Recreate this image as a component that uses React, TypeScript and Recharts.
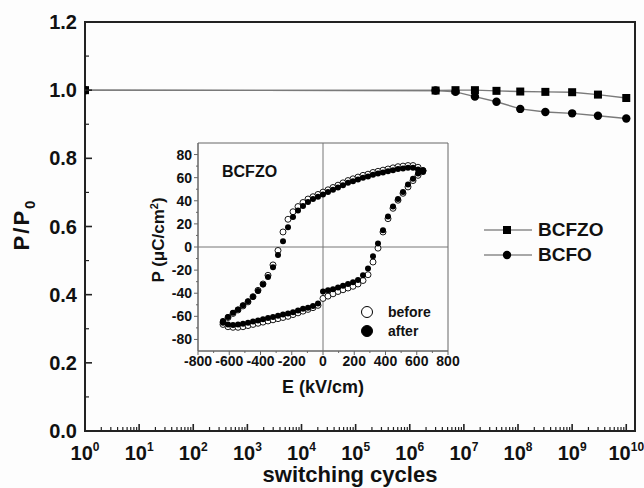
import {
  LineChart,
  Line,
  XAxis,
  YAxis,
  ReferenceArea,
  ReferenceLine,
  Legend,
  ScatterChart,
  Scatter,
} from "recharts";

const FONT = '"Liberation Sans", Arial, Helvetica, sans-serif';

// main plot: P/P0 against number of switching cycles
const cycles = [1, 3e6, 7e6, 1.6e7, 4e7, 1.1e8, 3.2e8, 1e9, 3e9, 1e10];
const bcfzo = [1.0, 0.999, 1.0, 1.0, 0.998, 0.996, 0.995, 0.994, 0.987, 0.977];
const bcfo = [1.0, 0.999, 0.995, 0.981, 0.966, 0.945, 0.936, 0.932, 0.925, 0.917];
const mainNames = ["BCFZO", "BCFO"];

const decades = [0, 1, 2, 3, 4, 5, 6, 7, 8, 9, 10];
const yTicks = [0, 0.1, 0.2, 0.3, 0.4, 0.5, 0.6, 0.7, 0.8, 0.9, 1.0, 1.1, 1.2];
const X_MAX = 1.45e10;

// inset: hysteresis loop of BCFZO, before / after fatigue
const loopE = [
  -640, -608, -576, -544, -512, -480, -448, -416, -384, -352, -320, -288, -256, -224, -192, -160, -128, -96, -64, -32,
  0, 32, 64, 96, 128, 160, 192, 224, 256, 288, 320, 352, 384, 416, 448, 480, 512, 544, 576, 608, 640,
];
const upperBefore = [
  -65, -61, -57.5, -54.5, -51, -47.5, -43, -37.5, -32, -24.5, -15.5, -3, 13, 24, 30.5, 35, 38.5, 41.5, 43.5, 45.5,
  47.5, 49.5, 51.5, 53.5, 55.5, 57.5, 59, 60.5, 62, 63, 64.5, 65.5, 66.5, 67.5, 68.5, 69.5, 70, 70.5, 70.5, 69, 66,
];
const lowerBefore = [
  -67, -69, -69.5, -69.5, -69, -68, -67, -66, -65, -64, -63, -62, -61, -60, -58.5, -57, -55.5, -54, -52.5, -50.5,
  -44.5, -42.5, -40.5, -38.5, -37, -35.5, -34, -32, -29, -24, -13, -1, 13, 24.5, 33.5, 40.5, 46.5, 52, 57.5, 62, 66,
];
const upperAfter = [
  -64, -60.5, -57, -54, -50.5, -47, -43, -38, -32.5, -26, -17.5, -7, 5, 17, 26, 31.5, 35.5, 39, 41.5, 43.5,
  45.5, 47.5, 49.5, 51.5, 53.5, 55.5, 57, 58.5, 60, 61, 62.5, 63.5, 64.5, 65.5, 66.5, 67.5, 68, 68.5, 68.5, 67, 65,
];
const lowerAfter = [
  -65.5, -67, -67.5, -67, -66.5, -65.5, -64.5, -63.5, -62.5, -61.5, -60.5, -59.5, -58.5, -57.5, -56.5, -55, -53.5, -52.5, -51, -49,
  -38.5, -37.5, -36.5, -35, -33.5, -32, -30.5, -28.5, -24.5, -18.5, -8, 3, 14.5, 26.5, 35, 41.5, 47.5, 54, 59, 63.5, 66.5,
];
const loopNames = ["before", "after"];
const eTicks = [-800, -700, -600, -500, -400, -300, -200, -100, 0, 100, 200, 300, 400, 500, 600, 700, 800];
const pTicks = [-80, -70, -60, -50, -40, -30, -20, -10, 0, 10, 20, 30, 40, 50, 60, 70, 80];

const mainData = cycles.map((c, i) => ({ cycles: c, bcfzo: bcfzo[i], bcfo: bcfo[i] }));

const xTicks: number[] = [];
decades.forEach((d) => {
  for (let m = 1; m <= 9; m++) {
    if (d === 10 && m > 1) break;
    xTicks.push(m * Math.pow(10, d));
  }
});

const loopPoints = (upper: number[], lower: number[]) => [
  ...loopE.map((e, i) => ({ e, p: upper[i] })),
  ...loopE.map((e, i) => ({ e, p: lower[i] })),
];
const beforeData = loopPoints(upperBefore, lowerBefore);
const afterData = loopPoints(upperAfter, lowerAfter);

const isDecade = (v: number) => Math.abs(Math.log10(v) - Math.round(Math.log10(v))) < 1e-9;
const inOrder = (payload: any[], names: string[]) =>
  [...(payload || [])].sort((a, b) => names.indexOf(a.value) - names.indexOf(b.value));

function LogTick(props: any) {
  const { x, y, payload } = props;
  const major = isDecade(payload.value);
  const exp = Math.round(Math.log10(payload.value));
  return (
    <g>
      <line x1={x} x2={x} y1={y} y2={y - (major ? 7 : 4)} stroke="#222" strokeWidth={major ? 1.6 : 1.2} />
      {major && (
        <text x={x} y={y + 29} textAnchor="middle" fontSize={20} fontWeight="bold" fill="#111" fontFamily={FONT}>
          <tspan>10</tspan>
          <tspan dy={-9} fontSize={12}>
            {exp}
          </tspan>
        </text>
      )}
    </g>
  );
}

function RatioTick(props: any) {
  const { x, y, payload } = props;
  const major = Math.round(payload.value * 10) % 2 === 0;
  return (
    <g>
      <line x1={x} x2={x + (major ? 7 : 4)} y1={y} y2={y} stroke="#222" strokeWidth={major ? 1.6 : 1.2} />
      {major && (
        <text x={x - 8} y={y + 7} textAnchor="end" fontSize={20} fontWeight="bold" fill="#111" fontFamily={FONT}>
          {payload.value.toFixed(1)}
        </text>
      )}
    </g>
  );
}

function FieldTick(props: any) {
  const { x, y, payload } = props;
  const major = payload.value % 200 === 0;
  return (
    <g>
      <line x1={x} x2={x} y1={y} y2={y + (major ? 4 : 2)} stroke="#666" />
      {major && (
        <text x={x} y={y + 15} textAnchor="middle" fontSize={14} fontWeight="bold" fill="#111" fontFamily={FONT}>
          {payload.value}
        </text>
      )}
    </g>
  );
}

function PolTick(props: any) {
  const { x, y, payload } = props;
  const major = payload.value % 20 === 0;
  return (
    <g>
      <line x1={x} x2={x - (major ? 4 : 2)} y1={y} y2={y} stroke="#666" />
      {major && (
        <text x={x - 6} y={y + 5} textAnchor="end" fontSize={14} fontWeight="bold" fill="#111" fontFamily={FONT}>
          {payload.value}
        </text>
      )}
    </g>
  );
}

function MainLegend({ payload }: any) {
  return (
    <div style={{ fontFamily: FONT }}>
      {inOrder(payload, mainNames).map((entry: any) => (
        <div key={entry.value} style={{ display: "flex", alignItems: "center", height: 25 }}>
          <svg width={50} height={12} style={{ display: "block" }}>
            <line x1={1} x2={49} y1={6} y2={6} stroke="#555" strokeWidth={1.2} />
            {entry.value === "BCFZO" ? (
              <rect x={20} y={2} width={8} height={8} fill="#000" />
            ) : (
              <circle cx={24} cy={6} r={4.2} fill="#000" />
            )}
          </svg>
          <span style={{ marginLeft: 5, fontSize: 19, fontWeight: "bold", color: "#111" }}>{entry.value}</span>
        </div>
      ))}
    </div>
  );
}

function InsetLegend({ payload }: any) {
  return (
    <div style={{ fontFamily: FONT }}>
      {inOrder(payload, loopNames).map((entry: any) => (
        <div key={entry.value} style={{ display: "flex", alignItems: "center", height: 19.5 }}>
          <svg width={14} height={14} style={{ display: "block" }}>
            <circle
              cx={7}
              cy={7}
              r={5.5}
              fill={entry.value === "after" ? "#000" : "#fff"}
              stroke="#000"
              strokeWidth={1}
            />
          </svg>
          <span style={{ marginLeft: 14, fontSize: 14, fontWeight: "bold", color: "#111" }}>{entry.value}</span>
        </div>
      ))}
    </div>
  );
}

const squareDot = (p: any) =>
  p.cx == null ? <g key={p.index} /> : <rect key={p.index} x={p.cx - 4} y={p.cy - 4} width={8} height={8} fill="#000" />;
const circleDot = (p: any) =>
  p.cx == null ? <g key={p.index} /> : <circle key={p.index} cx={p.cx} cy={p.cy} r={4.2} fill="#000" />;

export default function App() {
  return (
    <div
      style={{
        position: "absolute",
        left: 0,
        top: 0,
        width: 644,
        height: 488,
        background: "#fdfdfd",
        fontFamily: FONT,
      }}
    >
      <LineChart width={644} height={488} data={mainData} margin={{ top: 22, right: 9, bottom: 0, left: 0 }}>
        <XAxis
          dataKey="cycles"
          type="number"
          scale="log"
          domain={[1, X_MAX]}
          allowDataOverflow
          ticks={xTicks}
          interval={0}
          tickLine={false}
          tickSize={0}
          tickMargin={0}
          tick={(p: any) => <LogTick {...p} />}
          height={57}
          axisLine={{ stroke: "#222", strokeWidth: 2 }}
          label={(p: any) => {
            const vb = p.viewBox || { x: 85, y: 431, width: 550 };
            return (
              <text
                x={vb.x + vb.width / 2 - 10}
                y={vb.y + 51}
                textAnchor="middle"
                fontSize={22}
                fontWeight="bold"
                fill="#111"
                fontFamily={FONT}
              >
                switching cycles
              </text>
            );
          }}
        />
        <YAxis
          yAxisId="left"
          type="number"
          domain={[0, 1.2]}
          ticks={yTicks}
          interval={0}
          width={85}
          tickLine={false}
          tickSize={0}
          tickMargin={0}
          tick={(p: any) => <RatioTick {...p} />}
          axisLine={{ stroke: "#222", strokeWidth: 2 }}
          label={(p: any) => {
            const vb = p.viewBox || { x: 0, y: 22, height: 409 };
            const cx = vb.x + 29;
            const cy = vb.y + vb.height / 2 - 2;
            return (
              <text
                x={cx}
                y={cy}
                transform={`rotate(-90, ${cx}, ${cy})`}
                textAnchor="middle"
                fontSize={22}
                letterSpacing={2}
                fontWeight="bold"
                fill="#111"
                fontFamily={FONT}
              >
                P/P
                <tspan dy={6} fontSize={15}>
                  0
                </tspan>
              </text>
            );
          }}
        />
        <ReferenceArea
          yAxisId="left"
          x1={1}
          x2={X_MAX}
          y1={0}
          y2={1.2}
          fill="none"
          stroke="#222"
          strokeWidth={2}
          fillOpacity={0}
        />
        <Line
          yAxisId="left"
          dataKey="bcfzo"
          name="BCFZO"
          stroke="#7a7a7a"
          strokeWidth={1.4}
          dot={squareDot}
          activeDot={false}
          isAnimationActive={false}
        />
        <Line
          yAxisId="left"
          dataKey="bcfo"
          name="BCFO"
          stroke="#7a7a7a"
          strokeWidth={1.4}
          dot={circleDot}
          activeDot={false}
          isAnimationActive={false}
        />
        <Legend
          layout="horizontal"
          verticalAlign="middle"
          align="center"
          content={(p: any) => <MainLegend {...p} />}
          wrapperStyle={{ left: 483, top: 217, width: 140, height: 50 }}
        />
      </LineChart>

      <div style={{ position: "absolute", left: 140, top: 130 }}>
        <ScatterChart width={320} height={270} margin={{ top: 13, right: 12, bottom: 0, left: 0 }}>
          <XAxis
            dataKey="e"
            type="number"
            domain={[-800, 800]}
            ticks={eTicks}
            interval={0}
            tickLine={false}
            tickSize={0}
            tickMargin={0}
            tick={(p: any) => <FieldTick {...p} />}
            height={49}
            axisLine={{ stroke: "#666" }}
            label={(p: any) => {
              const vb = p.viewBox || { x: 58, y: 221, width: 250 };
              return (
                <text
                  x={vb.x + vb.width / 2}
                  y={vb.y + 42}
                  textAnchor="middle"
                  fontSize={18}
                  fontWeight="bold"
                  fill="#111"
                  fontFamily={FONT}
                >
                  E (kV/cm)
                </text>
              );
            }}
          />
          <YAxis
            dataKey="p"
            type="number"
            domain={[-90, 90]}
            ticks={pTicks}
            interval={0}
            width={58}
            tickLine={false}
            tickSize={0}
            tickMargin={0}
            tick={(p: any) => <PolTick {...p} />}
            axisLine={{ stroke: "#666" }}
            label={(p: any) => {
              const vb = p.viewBox || { x: 0, y: 13, height: 208 };
              const cx = vb.x + 24;
              const cy = vb.y + vb.height / 2 - 7;
              return (
                <text
                  x={cx}
                  y={cy}
                  transform={`rotate(-90, ${cx}, ${cy})`}
                  textAnchor="middle"
                  fontSize={17}
                  fontWeight="bold"
                  fill="#111"
                  fontFamily={FONT}
                >
                  P (μC/cm
                  <tspan dy={-6} fontSize={11}>
                    2
                  </tspan>
                  <tspan dy={6}>)</tspan>
                </text>
              );
            }}
          />
          <ReferenceArea
            x1={-800}
            x2={800}
            y1={-90}
            y2={90}
            fill="none"
            fillOpacity={0}
            stroke="#666"
            label={(p: any) => {
              const vb = p.viewBox || { x: 58, y: 13 };
              return (
                <text
                  x={vb.x + 24}
                  y={vb.y + 34}
                  fontSize={16}
                  fontWeight="bold"
                  fill="#111"
                  fontFamily={FONT}
                >
                  BCFZO
                </text>
              );
            }}
          />
          <ReferenceLine x={0} stroke="#777" />
          <ReferenceLine y={0} stroke="#777" />
          <Scatter
            name="before"
            data={beforeData}
            isAnimationActive={false}
            shape={(p: any) => <circle cx={p.cx} cy={p.cy} r={3} fill="#fff" stroke="#000" strokeWidth={0.9} />}
          />
          <Scatter
            name="after"
            data={afterData}
            isAnimationActive={false}
            shape={(p: any) => <circle cx={p.cx} cy={p.cy} r={3} fill="#000" />}
          />
          <Legend
            layout="horizontal"
            verticalAlign="middle"
            align="center"
            content={(p: any) => <InsetLegend {...p} />}
            wrapperStyle={{ left: 220, top: 172, width: 80, height: 40 }}
          />
        </ScatterChart>
      </div>
    </div>
  );
}
